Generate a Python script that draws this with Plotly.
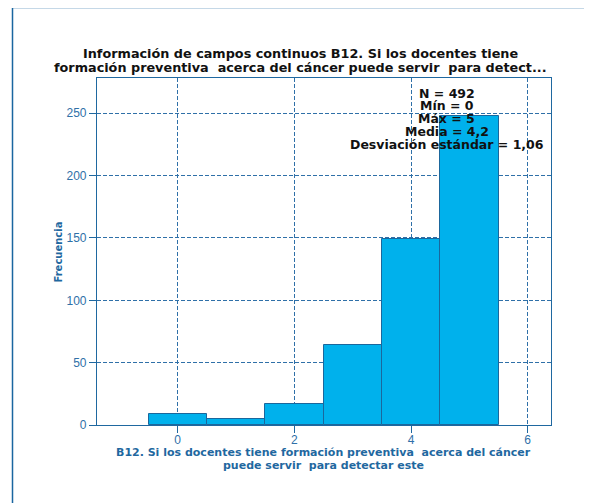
import plotly.graph_objects as go

# Data
bin_centers = [0, 1, 2, 3, 4, 5]
frequencies = [9, 5, 17, 64, 149, 248]
x_ticks = [0, 2, 4, 6]
y_ticks = [0, 50, 100, 150, 200, 250]
title_lines = [
    "Información de campos continuos B12. Si los docentes tiene",
    "formación preventiva  acerca del cáncer puede servir  para detect...",
]
xaxis_lines = [
    "B12. Si los docentes tiene formación preventiva  acerca del cáncer",
    "puede servir  para detectar este",
]
stats_lines = ["N = 492", "Mín = 0", "Máx = 5", "Media = 4,2", "Desviación estándar = 1,06"]

# page body has an 8px margin: work in page pixels, shift by OFF
OFF = 8
W, H = 592 - OFF, 503 - OFF
L, R, T, B = 97 - OFF, 551 - OFF, 78 - OFF, 425 - OFF
pw, ph = R - L, B - T

def px(x):
    return (x - OFF - L) / pw

def py(y):
    return (B - (y - OFF)) / ph

BLUE = "#1f68a0"
TICK = "#2f70a8"
FONT = "Liberation Sans, Arial, sans-serif"
BFONT = "DejaVu Sans, sans-serif"

fig = go.Figure()
fig.add_trace(go.Bar(
    x=bin_centers, y=frequencies, width=1,
    marker=dict(color="#00b1ec", line=dict(color="#1b679c", width=1)),
    hoverinfo="x+y",
))

ann = []
for t, y in zip(title_lines, [54, 67.5]):
    ann.append(dict(text="<b>%s</b>" % t, x=px(300.5), y=py(y), xref="paper", yref="paper",
                    xanchor="center", yanchor="middle", showarrow=False,
                    font=dict(family=BFONT, size=12.8, color="#111111")))
for t, y in zip(stats_lines, [93.3, 105.7, 119, 131.7, 144.3]):
    ann.append(dict(text="<b>%s</b>" % t, x=px(446.5), y=py(y), xref="paper", yref="paper",
                    xanchor="center", yanchor="middle", showarrow=False,
                    font=dict(family=BFONT, size=12.5, color="#111111")))
for t, y in zip(xaxis_lines, [452.7, 465]):
    ann.append(dict(text="<b>%s</b>" % t, x=px(323.5), y=py(y), xref="paper", yref="paper",
                    xanchor="center", yanchor="middle", showarrow=False,
                    font=dict(family=BFONT, size=11, color=BLUE)))
ann.append(dict(text="<b>Frecuencia</b>", x=px(58), y=py(252.5), xref="paper", yref="paper",
                xanchor="center", yanchor="middle", showarrow=False, textangle=-90,
                font=dict(family=BFONT, size=10, color=BLUE)))

shapes = [
    dict(type="line", xref="paper", yref="paper", x0=px(12), x1=px(589), y0=py(7.5), y1=py(7.5),
         line=dict(color="#1a66a0", width=1.5)),
    dict(type="line", xref="paper", yref="paper", x0=px(12.5), x1=px(12.5), y0=py(7.5), y1=py(520),
         line=dict(color="#1a66a0", width=1.5)),
]

axis_common = dict(
    showline=True, linecolor=BLUE, linewidth=1.2, mirror=True,
    ticks="outside", ticklen=7, tickcolor=BLUE, tickwidth=1,
    showgrid=True, gridcolor="#2f70a8", griddash="4px,2px", gridwidth=1,
    zeroline=False,
    tickfont=dict(family=FONT, size=12, color=TICK),
)

fig.update_layout(
    width=W, height=H,
    margin=dict(l=L, r=W - R, t=T, b=H - B, pad=0),
    paper_bgcolor="white", plot_bgcolor="white",
    showlegend=False,
    bargap=0,
    xaxis=dict(range=[-1.383, 6.40], tickvals=x_ticks, ticklabelstandoff=-4, **axis_common),
    yaxis=dict(range=[0, 278.3], tickvals=y_ticks, **axis_common),
    annotations=ann,
    shapes=shapes,
)

fig.write_html("out.html")
